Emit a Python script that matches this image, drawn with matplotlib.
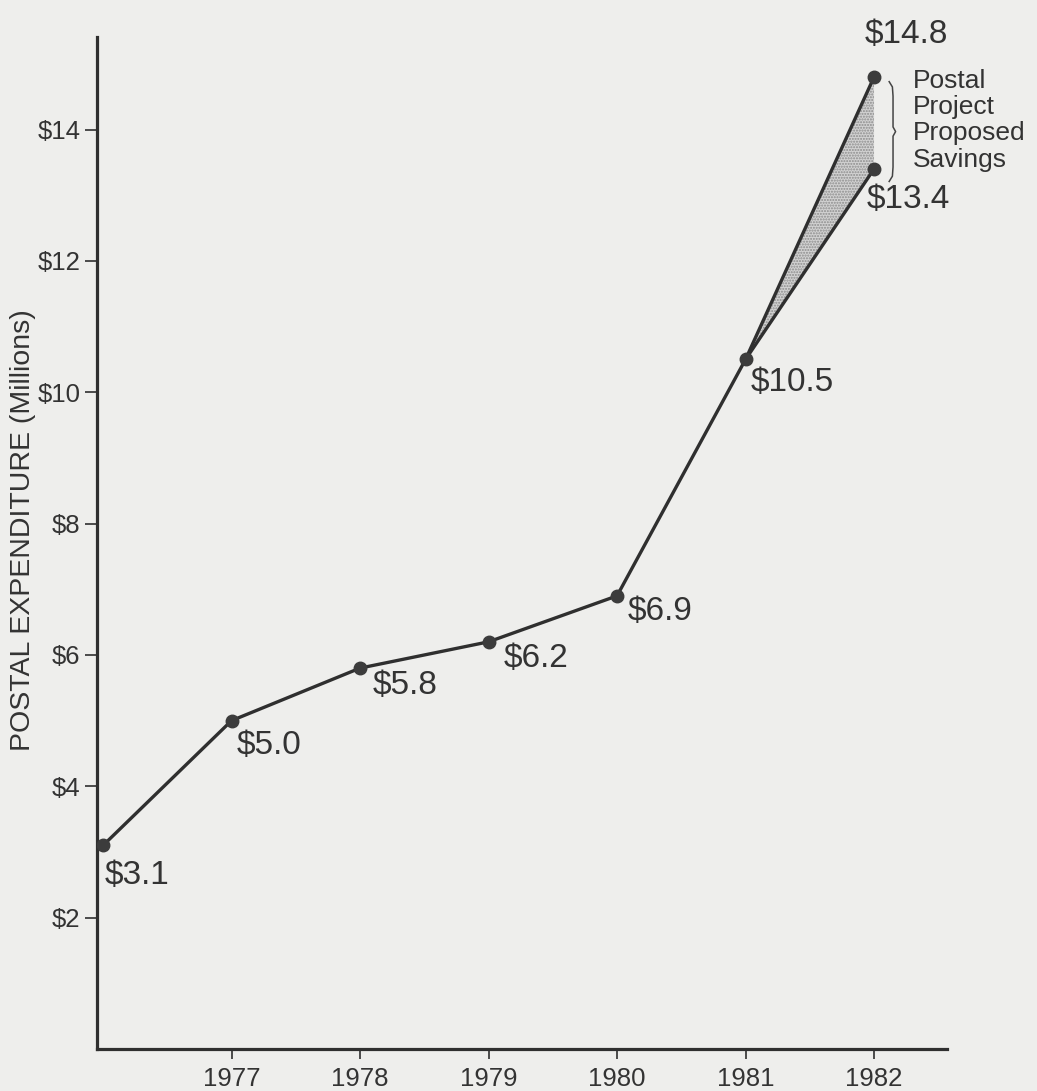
import matplotlib
matplotlib.use("Agg")
import matplotlib.pyplot as plt
import numpy as np

plt.rcParams['font.family'] = ['Liberation Sans', 'DejaVu Sans']

# ---- data ----
years = [1976, 1977, 1978, 1979, 1980, 1981, 1982]
expenditure = [3.1, 5.0, 5.8, 6.2, 6.9, 10.5, 14.8]
proposed_year = [1981, 1982]
proposed_values = [10.5, 13.4]
value_labels = ["$3.1", "$5.0", "$5.8", "$6.2", "$6.9", "$10.5", "$14.8"]
proposed_label = "$13.4"
y_ticks = [2, 4, 6, 8, 10, 12, 14]
y_ticklabels = ["$2", "$4", "$6", "$8", "$10", "$12", "$14"]
x_ticks = [1977, 1978, 1979, 1980, 1981, 1982]
x_ticklabels = ["1977", "1978", "1979", "1980", "1981", "1982"]
annotation_text = "Postal\nProject\nProposed\nSavings"
y_title = "POSTAL EXPENDITURE (Millions)"

BG = '#eeeeec'
INK = '#2f2f2f'
TXT = '#333333'

fig = plt.figure(figsize=(10.37, 10.91), dpi=100, facecolor=BG)
W, H = 1037, 1091
ax = fig.add_axes([97 / W, 42 / H, (947 - 97) / W, (1049 - 37) / H])
ax.set_facecolor(BG)
ax.patch.set_alpha(0)

ax.set_xlim(1975.953, 1982.568)
ax.set_ylim(0, 15.41)

# shaded savings region (stippled)
ax.fill([years[-2], years[-1], proposed_year[-1]],
        [expenditure[-2], expenditure[-1], proposed_values[-1]],
        facecolor='#d2d2d2', edgecolor='#8c8c8c', hatch='......', linewidth=0, zorder=1)

# main line
ax.plot(years, expenditure, color=INK, lw=2.4, zorder=3, solid_capstyle='round')
ax.plot(years, expenditure, 'o', color='#3c3c3c', ms=9, zorder=4)
# proposed line
ax.plot(proposed_year, proposed_values, color=INK, lw=2.4, zorder=3)
ax.plot(proposed_year[-1:], proposed_values[-1:], 'o', color='#3c3c3c', ms=9, zorder=4)

# data labels (offsets in points)
offsets = [(1.4, -22, 'left', 'center'),
           (3.6, -18, 'left', 'center'),
           (9.4, -12.2, 'left', 'center'),
           (10.8, -12.2, 'left', 'center'),
           (8, -11, 'left', 'center'),
           (3.6, -16.5, 'left', 'center'),
           (-7, 31, 'left', 'center')]
for x, y, lab, (dx, dy, ha, va) in zip(years, expenditure, value_labels, offsets):
    ax.annotate(lab, (x, y), xytext=(dx, dy), textcoords='offset points',
                ha=ha, va=va, fontsize=24, color=TXT, annotation_clip=False, zorder=5)
ax.annotate(proposed_label, (proposed_year[-1], proposed_values[-1]), xytext=(-5, -22),
            textcoords='offset points', ha='left', va='center', fontsize=24,
            color=TXT, annotation_clip=False, zorder=5)

# annotation text
ax.annotate(annotation_text, (years[-1], expenditure[-1]), xytext=(28, 6),
            textcoords='offset points', ha='left', va='top', fontsize=19,
            color=TXT, linespacing=1.12, annotation_clip=False)

# brace
xb = years[-1] + 0.148
ytop = expenditure[-1] - 0.09
ybot = proposed_values[-1] - 0.17
ymid = (ytop + ybot) / 2
bx = [xb - 0.03, xb - 0.005, xb, xb, xb + 0.02, xb, xb, xb - 0.005, xb - 0.03]
by = [ytop + 0.02, ytop - 0.06, ytop - 0.2, ymid + 0.07, ymid, ymid - 0.07, ybot + 0.2, ybot + 0.06, ybot - 0.02]
ax.plot(bx, by, color='#444444', lw=1.1, clip_on=False)

# axes styling
for s in ['top', 'right']:
    ax.spines[s].set_visible(False)
for s in ['left', 'bottom']:
    ax.spines[s].set_color(INK)
    ax.spines[s].set_linewidth(2.3)
ax.set_yticks(y_ticks)
ax.set_yticklabels(y_ticklabels)
ax.set_xticks(x_ticks)
ax.set_xticklabels(x_ticklabels)
ax.tick_params(axis='y', direction='out', length=9, width=1.2, color=INK,
               labelsize=18.5, labelcolor=TXT, pad=3)
ax.tick_params(axis='x', direction='out', length=7, width=1.2, color=INK,
               labelsize=18.5, labelcolor=TXT, pad=6)

fig.text(23 / W, (H - 530) / H, y_title, rotation=90, ha='center', va='center',
         fontsize=20.5, color=TXT)

fig.savefig('out.png', dpi=100, facecolor=BG)
